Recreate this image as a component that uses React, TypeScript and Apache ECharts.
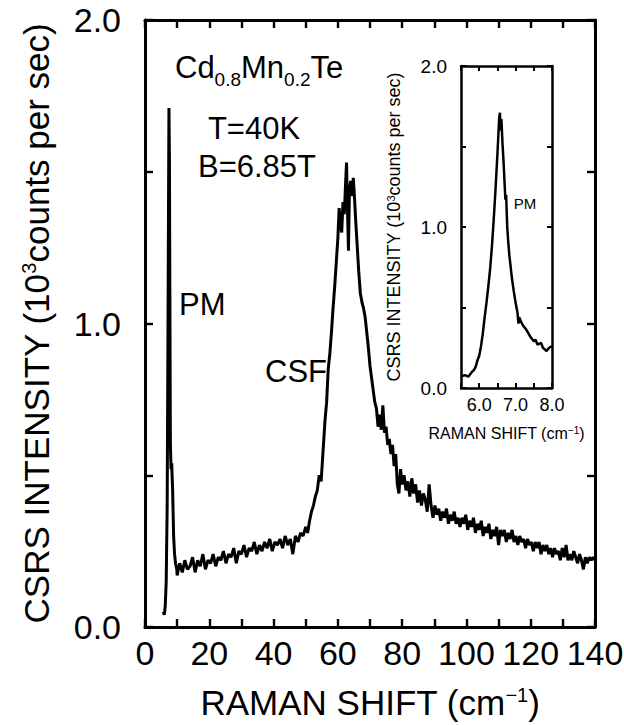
import React, { useEffect, useRef } from 'react';
import * as echarts from 'echarts';

const FONT = '"Liberation Sans", Arial, Helvetica, sans-serif';

// Main spectrum: [Raman shift (cm^-1), CSRS intensity (10^3 counts/s)]
const mainSpectrum: [number, number][] = [
  [5.7, 0.05], [6.0, 0.04], [6.3, 0.07], [6.6, 0.15], [6.9, 0.4], [7.1, 0.85], [7.3, 1.35], [7.45, 1.71],
  [7.6, 1.55], [7.75, 1.05], [7.9, 0.6], [8.1, 0.52], [8.3, 0.54], [8.6, 0.45], [8.9, 0.3], [9.2, 0.24],
  [9.5, 0.21], [9.9, 0.19],
  [10.0, 0.17], [10.8, 0.21], [11.6, 0.18], [12.4, 0.22], [13.2, 0.19], [14.0, 0.2], [14.8, 0.23], [15.6, 0.18],
  [16.4, 0.22], [17.2, 0.2], [18.0, 0.24], [18.8, 0.19], [19.6, 0.22], [20.4, 0.21], [21.2, 0.24], [22.0, 0.2],
  [22.8, 0.23], [23.6, 0.22], [24.4, 0.25], [25.2, 0.21], [26.0, 0.24], [26.8, 0.23], [27.6, 0.26], [28.4, 0.21],
  [29.2, 0.25], [30.0, 0.24], [30.8, 0.27], [31.6, 0.23], [32.4, 0.26], [33.2, 0.25], [34.0, 0.28], [34.8, 0.24],
  [35.6, 0.27], [36.4, 0.25], [37.2, 0.28], [38.0, 0.26], [38.8, 0.29], [39.6, 0.25], [40.4, 0.28], [41.2, 0.27],
  [42.0, 0.29], [42.8, 0.26], [43.6, 0.3], [44.4, 0.27], [45.2, 0.29], [46.0, 0.24], [46.8, 0.3], [47.6, 0.28],
  [48.4, 0.31], [49.2, 0.3], [50.0, 0.33], [50.6, 0.31], [51.2, 0.35], [51.8, 0.38], [52.4, 0.4], [53.0, 0.43],
  [53.6, 0.45], [54.2, 0.5], [54.8, 0.48], [55.4, 0.58], [56.0, 0.68], [56.5, 0.74], [57.0, 0.85], [57.5, 0.9],
  [58.0, 0.97], [58.5, 1.05], [59.0, 1.12], [59.5, 1.2], [60.0, 1.28], [60.4, 1.38], [60.8, 1.33], [61.2, 1.3],
  [61.6, 1.4], [62.0, 1.36], [62.4, 1.46], [62.7, 1.53], [63.0, 1.38], [63.3, 1.24], [63.6, 1.44], [64.0, 1.47],
  [64.4, 1.42], [64.8, 1.48], [65.2, 1.41], [65.6, 1.33], [66.0, 1.26], [66.5, 1.17], [67.0, 1.1], [67.5, 1.07],
  [68.0, 1.05], [68.5, 1.02], [69.0, 0.97], [69.5, 0.92], [70.0, 0.86], [70.5, 0.82], [71.0, 0.78], [71.5, 0.74],
  [72.0, 0.72], [72.5, 0.66], [73.0, 0.7], [73.5, 0.65], [74.0, 0.73], [74.5, 0.64], [75.0, 0.66], [75.5, 0.6],
  [76.0, 0.62], [76.5, 0.57], [77.0, 0.6], [77.5, 0.53], [78.0, 0.57], [78.5, 0.47], [79.0, 0.44], [79.5, 0.52],
  [80.0, 0.47], [80.6, 0.5], [81.2, 0.45], [81.8, 0.48], [82.4, 0.43], [83.0, 0.49], [83.6, 0.44], [84.2, 0.47],
  [84.8, 0.41], [85.4, 0.45], [86.0, 0.4], [86.6, 0.44], [87.2, 0.42], [87.8, 0.38], [88.4, 0.47], [89.0, 0.4],
  [89.6, 0.36], [90.2, 0.4], [90.8, 0.37], [91.4, 0.39], [92.0, 0.35], [92.6, 0.38], [93.2, 0.36], [93.8, 0.39],
  [94.4, 0.34], [95.0, 0.37], [95.6, 0.35], [96.2, 0.38], [96.8, 0.34], [97.4, 0.36], [98.0, 0.33], [98.6, 0.36],
  [99.2, 0.34], [99.8, 0.37], [100.4, 0.32], [101.0, 0.35], [101.6, 0.33], [102.2, 0.36], [102.8, 0.31], [103.4, 0.34],
  [104.0, 0.32], [104.6, 0.35], [105.2, 0.3], [105.8, 0.33], [106.4, 0.31], [107.0, 0.34], [107.6, 0.29], [108.2, 0.32],
  [108.8, 0.3], [109.4, 0.33], [110.0, 0.27], [110.6, 0.32], [111.2, 0.3], [111.8, 0.32], [112.4, 0.28], [113.0, 0.31],
  [113.6, 0.29], [114.2, 0.32], [114.8, 0.28], [115.4, 0.3], [116.0, 0.27], [116.6, 0.3], [117.2, 0.28], [117.8, 0.29],
  [118.4, 0.26], [119.0, 0.29], [119.6, 0.27], [120.2, 0.28], [120.8, 0.25], [121.4, 0.28], [122.0, 0.26], [122.6, 0.28],
  [123.2, 0.24], [123.8, 0.27], [124.4, 0.25], [125.0, 0.27], [125.6, 0.24], [126.2, 0.26], [126.8, 0.23], [127.4, 0.26],
  [128.0, 0.24], [128.6, 0.25], [129.2, 0.22], [129.8, 0.26], [130.4, 0.23], [131.0, 0.27], [131.6, 0.22], [132.2, 0.24],
  [132.8, 0.22], [133.4, 0.25], [134.0, 0.23], [134.6, 0.21], [135.2, 0.24], [135.8, 0.22], [136.4, 0.19], [137.0, 0.23],
  [137.6, 0.21], [138.2, 0.23], [138.8, 0.22], [139.4, 0.23], [140.0, 0.22],
];

// Inset spectrum (PM line)
const insetSpectrum: [number, number][] = [
  [5.5, 0.07], [5.6, 0.08], [5.7, 0.07], [5.8, 0.1], [5.85, 0.11], [5.9, 0.13], [5.95, 0.17], [6.0, 0.2],
  [6.05, 0.26], [6.1, 0.34], [6.15, 0.44], [6.2, 0.53], [6.25, 0.63], [6.3, 0.74], [6.35, 0.88], [6.4, 1.05],
  [6.45, 1.24], [6.5, 1.45], [6.55, 1.68], [6.57, 1.71], [6.59, 1.6], [6.61, 1.67], [6.64, 1.52], [6.67, 1.4],
  [6.7, 1.26], [6.72, 1.17], [6.74, 1.2], [6.77, 1.0], [6.8, 0.9], [6.83, 0.82], [6.86, 0.76], [6.9, 0.68],
  [6.95, 0.6], [7.0, 0.53], [7.05, 0.47], [7.08, 0.4], [7.1, 0.44], [7.15, 0.41], [7.2, 0.39], [7.3, 0.36],
  [7.4, 0.32], [7.5, 0.29], [7.55, 0.3], [7.6, 0.27], [7.7, 0.28], [7.75, 0.25], [7.85, 0.23], [7.92, 0.25],
  [8.0, 0.26],
];

const mainXRange = [0, 140];
const mainYRange = [0, 2];
const insetXRange = [5.5, 8];
const insetYRange = [0, 2];

const isWhole = (v: number) => Math.abs(v - Math.round(v)) < 1e-6;

function makeAxis(opts: {
  grid: number; position: string; range: number[]; interval: number; showLabel: boolean;
  labelSize: number; labelMargin: number; fmt: (v: number) => string; tickLen: number; lineW: number;
  name?: string; nameGap?: number; nameSize?: number; supSize?: number;
}) {
  return {
    type: 'value',
    gridIndex: opts.grid,
    position: opts.position,
    min: opts.range[0],
    max: opts.range[1],
    interval: opts.interval,
    axisLine: { show: true, onZero: false, lineStyle: { color: '#000', width: opts.lineW } },
    axisTick: { show: true, inside: true, length: opts.tickLen, lineStyle: { color: '#000', width: opts.lineW * 0.8 } },
    splitLine: { show: false },
    axisLabel: {
      show: opts.showLabel,
      margin: opts.labelMargin,
      fontSize: opts.labelSize,
      fontFamily: FONT,
      color: '#000',
      formatter: opts.fmt,
    },
    name: opts.name || '',
    nameLocation: 'middle',
    nameGap: opts.nameGap || 0,
    nameTextStyle: {
      fontSize: opts.nameSize || 12,
      fontFamily: FONT,
      color: '#000',
      rich: {
        sup: {
          fontSize: opts.supSize || 10,
          fontFamily: FONT,
          color: '#000',
          lineHeight: 8,
          verticalAlign: 'top',
        },
      },
    },
  };
}

function txt(text: string, x: number, y: number, size: number, align = 'left') {
  return {
    type: 'text', x, y,
    style: {
      text, fill: '#000', fontSize: size, fontFamily: FONT,
      align, verticalAlign: 'middle', textAlign: align, textVerticalAlign: 'middle',
    },
  };
}

export default function App() {
  const ref = useRef<HTMLDivElement>(null);
  useEffect(() => {
    if (!ref.current) return;
    const chart = echarts.init(ref.current, undefined, { renderer: 'svg' });
    const fmtMainX = (v: number) => (Math.round(v) % 20 === 0 ? String(Math.round(v)) : '');
    const fmtOne = (v: number) => (isWhole(v) ? v.toFixed(1) : '');
    const none = () => '';

    // compound formula label: Cd0.8Mn0.2Te, laid out piece by piece
    const mainSize = 31;
    const subSize = 19;
    const cw = (s: string, size: number) => {
      const w: Record<string, number> = { C: 0.722, d: 0.556, M: 0.833, n: 0.556, T: 0.611, e: 0.556, '0': 0.556, '2': 0.556, '8': 0.556, '.': 0.278 };
      return s.split('').reduce((a, ch) => a + (w[ch] || 0.556), 0) * size;
    };
    const pieces: [string, boolean][] = [['Cd', false], ['0.8', true], ['Mn', false], ['0.2', true], ['Te', false]];
    let cx = 175;
    const formula: any[] = [];
    for (const [s, sub] of pieces) {
      formula.push(txt(s, cx, sub ? 79 : 67, sub ? subSize : mainSize));
      cx += cw(s, sub ? subSize : mainSize);
    }

    const option: any = {
      animation: false,
      backgroundColor: '#fff',
      grid: [
        { left: 145, top: 20, width: 450, height: 607, show: false, outerBoundsMode: 'none' },
        { left: 461, top: 66, width: 91, height: 322, show: true, backgroundColor: '#fff', borderWidth: 0, outerBoundsMode: 'none' },
      ],
      xAxis: [
        makeAxis({ grid: 0, position: 'bottom', range: mainXRange, interval: 10, showLabel: true, labelSize: 34, labelMargin: 9, fmt: fmtMainX, tickLen: 8, lineW: 3, name: 'RAMAN SHIFT (cm{sup|−1})', nameGap: 58, nameSize: 35, supSize: 20 }),
        makeAxis({ grid: 0, position: 'top', range: mainXRange, interval: 10, showLabel: false, labelSize: 10, labelMargin: 8, fmt: none, tickLen: 8, lineW: 3 }),
        makeAxis({ grid: 1, position: 'bottom', range: insetXRange, interval: 0.5, showLabel: true, labelSize: 18, labelMargin: 8, fmt: fmtOne, tickLen: 5, lineW: 2.5, name: 'RAMAN SHIFT (cm{sup|−1})', nameGap: 37, nameSize: 16, supSize: 10 }),
        makeAxis({ grid: 1, position: 'top', range: insetXRange, interval: 0.5, showLabel: false, labelSize: 10, labelMargin: 8, fmt: none, tickLen: 5, lineW: 2.5 }),
      ],
      yAxis: [
        makeAxis({ grid: 0, position: 'left', range: mainYRange, interval: 0.5, showLabel: true, labelSize: 34, labelMargin: 24, fmt: fmtOne, tickLen: 8, lineW: 3, name: 'CSRS INTENSITY (10{sup|3}counts per sec)', nameGap: 91, nameSize: 35, supSize: 20 }),
        makeAxis({ grid: 0, position: 'right', range: mainYRange, interval: 0.5, showLabel: false, labelSize: 10, labelMargin: 8, fmt: none, tickLen: 8, lineW: 3 }),
        makeAxis({ grid: 1, position: 'left', range: insetYRange, interval: 0.5, showLabel: true, labelSize: 19, labelMargin: 14, fmt: fmtOne, tickLen: 5, lineW: 2.5, name: 'CSRS INTENSITY (10{sup|3}counts per sec)', nameGap: 58, nameSize: 18, supSize: 11 }),
        makeAxis({ grid: 1, position: 'right', range: insetYRange, interval: 0.5, showLabel: false, labelSize: 10, labelMargin: 8, fmt: none, tickLen: 5, lineW: 2.5 }),
      ],
      series: [
        {
          type: 'line', xAxisIndex: 0, yAxisIndex: 0, data: mainSpectrum, showSymbol: false, symbol: 'none',
          lineStyle: { color: '#000', width: 3 }, z: 3,
        },
        {
          type: 'line', xAxisIndex: 2, yAxisIndex: 2, data: insetSpectrum, showSymbol: false, symbol: 'none',
          lineStyle: { color: '#000', width: 2.5 }, z: 3,
        },
      ],
      graphic: [
        ...formula,
        txt('T=40K', 254, 128, 31, 'center'),
        txt('B=6.85T', 257, 166, 31, 'center'),
        txt('PM', 179, 304, 31),
        txt('CSF', 265, 371, 31),
        txt('PM', 525, 203, 15, 'center'),
      ],
    };
    chart.setOption(option);
    return () => chart.dispose();
  }, []);
  return <div ref={ref} style={{ position: 'absolute', left: 0, top: 0, width: 624, height: 725 }} />;
}
